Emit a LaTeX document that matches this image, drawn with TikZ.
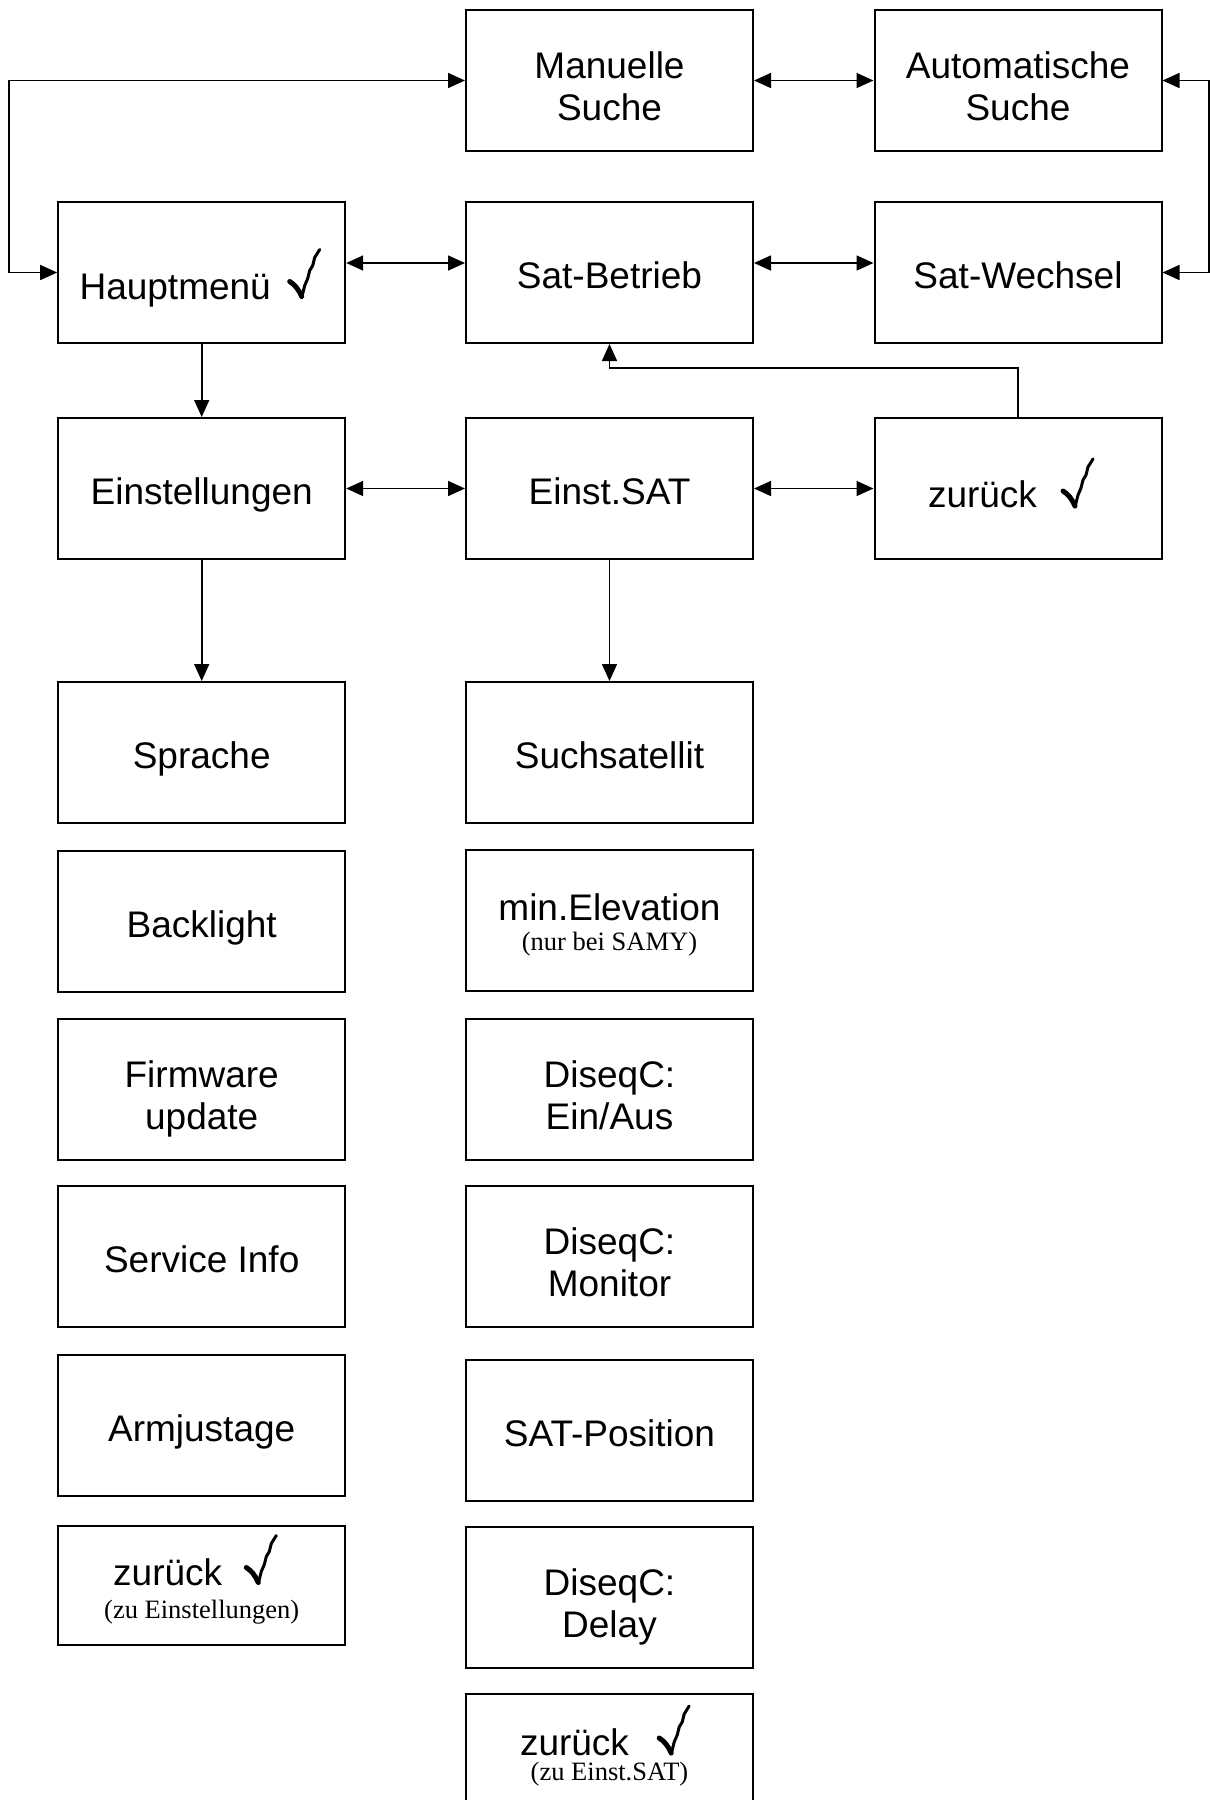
\documentclass[tikz,border=0pt]{standalone}
\usepackage{fontspec}
\setmainfont{Liberation Sans}
\newfontfamily\klein{Liberation Serif}
\usetikzlibrary{arrows.meta}

\tikzset{
  kasten/.style={draw, line width=2pt, minimum width=287pt, minimum height=141pt,
    inner sep=0pt, align=center, text height=32pt, text depth=0pt,
    font=\fontsize{37}{42}\selectfont},
  kasten2/.style={kasten, text height=80pt},
  pfeil/.style={line width=1.6pt, -{Triangle[length=17pt,width=15pt]}},
  dpfeil/.style={line width=1.6pt, {Triangle[length=17pt,width=15pt]}-{Triangle[length=17pt,width=15pt]}},
  haken/.pic={
    \draw[line width=5pt, line cap=round] (-12,-16) .. controls (-7,-13) and (-3,-8) .. (0,-1);
    \draw[line width=3pt, line cap=round] (0,0) -- (3,-12) -- (6,-19) -- (8,-27) -- (11,-32) -- (13,-40) -- (18,-48);
  }
}
\newcommand{\anm}[1]{{\klein\fontsize{26.5}{30}\selectfont #1}}

\begin{document}
\begin{tikzpicture}[x=1pt,y=-1pt]
  \useasboundingbox (0,0) rectangle (1210,1800);

  % obere drei Reihen
  \node[kasten2] (manuell) at (609.5,80.5) {Manuelle\\Suche};
  \node[kasten2] (autom) at (1018,80.5) {Automatische\\Suche};
  \node[kasten, text height=53pt] (haupt) at (201.7,272.5) {Hauptmenü\hspace*{53pt}};
  \node[kasten] (betrieb) at (609.5,272.5) {Sat-Betrieb};
  \node[kasten] (wechsel) at (1018,272.5) {Sat-Wechsel};
  \node[kasten] (einst) at (201.7,488.5) {Einstellungen};
  \node[kasten] (einstsat) at (609.5,488.5) {Einst.SAT};
  \node[kasten, text height=38pt] (zurueck) at (1018,488.5) {zurück\hspace*{71pt}};

  % Einstellungen
  \node[kasten] (sprache) at (201.7,752.5) {Sprache};
  \node[kasten] (backlight) at (201.7,921) {Backlight};
  \node[kasten2] (firmware) at (201.7,1089) {Firmware\\update};
  \node[kasten] (service) at (201.7,1256.5) {Service Info};
  \node[kasten] (arm) at (201.7,1425) {Armjustage};
  \node[kasten2, minimum height=118.5pt, text height=65pt] (zurueckE) at (201.7,1585.5)
    {zurück\hspace*{68pt}\\[-9pt]\anm{(zu Einstellungen)}};

  % Einst.SAT
  \node[kasten] (suchsat) at (609.5,752.5) {Suchsatellit};
  \node[kasten2, text height=60pt] (elev) at (609.5,920) {min.Elevation\\[-12pt]\anm{(nur bei SAMY)}};
  \node[kasten2] (einaus) at (609.5,1089) {DiseqC:\\Ein/Aus};
  \node[kasten2] (monitor) at (609.5,1256.5) {DiseqC:\\Monitor};
  \node[kasten] (satpos) at (609.5,1430) {SAT-Position};
  \node[kasten2] (delay) at (609.5,1597.5) {DiseqC:\\Delay};
  \node[kasten2, text height=31pt] (zurueckS) at (609.5,1764.5)
    {zurück\hspace*{70pt}\\[-17pt]\anm{(zu Einst.SAT)}};

  % Haken
  \pic at ([shift={(100,25)}]haupt.center) {haken};
  \pic at ([shift={(57,18.5)}]zurueck.center) {haken};
  \pic at ([shift={(56.6,-2)}]zurueckE.center) {haken};
  \pic at ([shift={(61.7,-10.5)}]zurueckS.center) {haken};

  % Verbindungen
  \coordinate (links) at (9,0);
  \coordinate (rechts) at (1209,0);
  \coordinate (knick) at (0,368);
  \draw[dpfeil] (haupt.west) -- (haupt.west -| links) |- (manuell.west);
  \draw[dpfeil] (autom.east) -- (autom.east -| rechts) |- (wechsel.east);
  \draw[dpfeil] (manuell) -- (autom);
  \draw[dpfeil] ([yshift=9.5pt]haupt.east) -- ([yshift=9.5pt]betrieb.west);
  \draw[dpfeil] ([yshift=9.5pt]betrieb.east) -- ([yshift=9.5pt]wechsel.west);
  \draw[dpfeil] (einst) -- (einstsat);
  \draw[dpfeil] (einstsat) -- (zurueck);
  \draw[pfeil] (haupt) -- (einst);
  \draw[pfeil] (einst) -- (sprache);
  \draw[pfeil] (einstsat) -- (suchsat);
  \draw[pfeil] (zurueck.north) |- (knick -| betrieb) -- (betrieb.south);
\end{tikzpicture}
\end{document}
